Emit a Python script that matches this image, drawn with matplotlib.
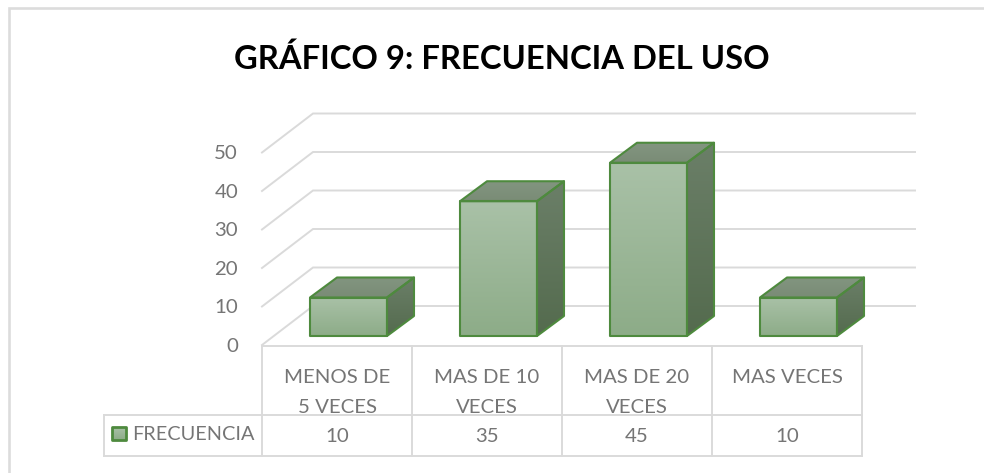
# Import libraries
import numpy as np
import matplotlib.pyplot as plt
from matplotlib.colors import to_rgb
from matplotlib.patches import Polygon

# Define global parameters
title = 'GRÁFICO 9: FRECUENCIA DEL USO'
categories = ['MENOS DE\n5 VECES', 'MAS DE 10\nVECES', 'MAS DE 20\nVECES', 'MAS VECES']
values = [10, 35, 45, 10]
series_name = 'FRECUENCIA'
y_ticks = [0, 10, 20, 30, 40, 50]

plt.rcParams['font.family'] = ['Lato', 'DejaVu Sans']

W, H = 984, 473
CAT_PX = 150.0
UNIT_PX = 3.85
X0_PX, Y0_PX = 262.0, 336.0
TEXT = '#757575'
GRID = '#dadada'
EDGE = '#4e8a3e'
LABEL_SIZE = 14.7

# Data units: one category is 1 on x, the value scale is on y
fig = plt.figure(figsize=(W/100, H/100), dpi=100)
ax = fig.add_axes([0, 0, 1, 1])
ax.set_xlim(-X0_PX/CAT_PX, (W - X0_PX)/CAT_PX)
ax.set_ylim(-(H - Y0_PX)/UNIT_PX, Y0_PX/UNIT_PX)
ax.axis('off')
ax.set_autoscale_on(False)

def px_x(n):
	return n/CAT_PX

def px_y(n):
	return n/UNIT_PX

def grid_line(xs, ys):
	ax.plot(xs, ys, color=GRID, lw=1.4, zorder=2, solid_joinstyle='miter', solid_capstyle='projecting')

def gradient_poly(points, top_color, bottom_color):
	poly = Polygon(points, closed=True, fc='none', ec='none')
	ax.add_patch(poly)
	pts = np.array(points)
	c1 = np.array(to_rgb(top_color))
	c2 = np.array(to_rgb(bottom_color))
	s = np.linspace(0, 1, 64)[:, None, None]
	img = c1[None, None, :]*(1 - s) + c2[None, None, :]*s
	im = ax.imshow(img, extent=[pts[:, 0].min(), pts[:, 0].max(), pts[:, 1].min(), pts[:, 1].max()], aspect='auto', origin='upper', zorder=3)
	im.set_clip_path(poly)

# Chart border, only the left and top edges are in the picture
border_x = px_x(8.5 - X0_PX)
border_y = px_y(Y0_PX - 8)
ax.plot([border_x, border_x, px_x(W - X0_PX)], [px_y(Y0_PX - H), border_y, border_y], color='#dcdcdc', lw=1.9, zorder=1, solid_joinstyle='miter')

# Walls and gridlines
wall_dx, wall_dy = px_x(51), px_y(39)
front_y = px_y(-9)
right_end = px_x(915 - X0_PX)
for t in y_ticks:
	y = front_y + t
	ax.plot([0, wall_dx, right_end], [y, y + wall_dy, y + wall_dy], color=GRID, lw=1.4, zorder=2, solid_joinstyle='miter')
	ax.text(px_x(-24), y - px_y(1), str(t), ha='right', va='center', fontsize=LABEL_SIZE, color=TEXT)

# Bars
bar_w = px_x(77)
bar_dx, bar_dy = px_x(27), px_y(20)
bar_left = px_x(48)
for i, v in enumerate(values):
	l = i + bar_left
	r = l + bar_w
	front = [(l, 0), (r, 0), (r, v), (l, v)]
	side = [(r, 0), (r + bar_dx, bar_dy), (r + bar_dx, v + bar_dy), (r, v)]
	top = [(l, v), (r, v), (r + bar_dx, v + bar_dy), (l + bar_dx, v + bar_dy)]
	gradient_poly(side, '#6b7f68', '#546b4e')
	gradient_poly(top, '#829580', '#7a8c76')
	gradient_poly(front, '#a9c1a7', '#8dac88')
	for shape in [side, top, front]:
		ax.add_patch(Polygon(shape, closed=True, fill=False, ec=EDGE, lw=1.5, joinstyle='round', zorder=4))

# Data table
n = len(categories)
table_top = px_y(-9.5)
table_mid = px_y(-79)
table_bot = px_y(-120)
legend_left = px_x(104 - X0_PX)
grid_line([0, n], [table_top, table_top])
grid_line([legend_left, n], [table_mid, table_mid])
grid_line([legend_left, n], [table_bot, table_bot])
grid_line([legend_left, legend_left], [table_mid, table_bot])
for i in range(n + 1):
	grid_line([i, i], [table_top, table_bot])
for i in range(n):
	parts = categories[i].split('\n')
	ax.text(i + 0.5, px_y(-41), parts[0], ha='center', va='center', fontsize=LABEL_SIZE, color=TEXT)
	if len(parts) > 1:
		ax.text(i + 0.5, px_y(-71.5), parts[1], ha='center', va='center', fontsize=LABEL_SIZE, color=TEXT)
	ax.text(i + 0.5, px_y(-100.5), str(values[i]), ha='center', va='center', fontsize=LABEL_SIZE, color=TEXT)

# Legend key and name
key_l, key_r = px_x(112 - X0_PX), px_x(126 - X0_PX)
key_b, key_t = px_y(-104), px_y(-91)
key = [(key_l, key_b), (key_r, key_b), (key_r, key_t), (key_l, key_t)]
gradient_poly(key, '#a9c1a7', '#8dac88')
ax.add_patch(Polygon(key, closed=True, fill=False, ec=EDGE, lw=2.0, joinstyle='round', zorder=4))
ax.text(px_x(132 - X0_PX), px_y(-98), series_name, ha='left', va='center', fontsize=14.3, color=TEXT)

# Title
ax.text(px_x(501.5 - X0_PX), px_y(Y0_PX - 59), title, ha='center', va='center', fontsize=23.6, fontweight='bold', color='black')

fig.savefig('out.png', dpi=100)
